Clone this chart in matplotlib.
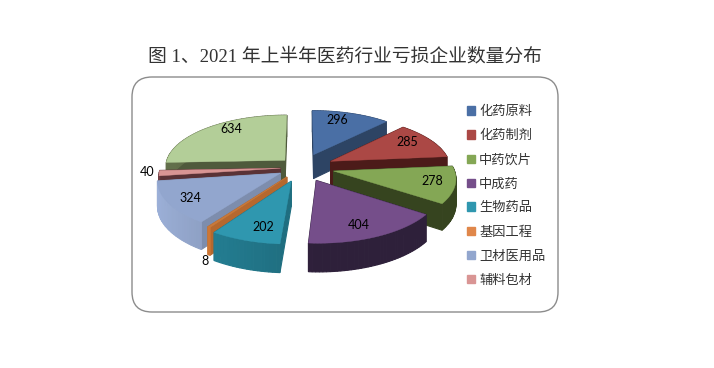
import numpy as np
import matplotlib
matplotlib.use('Agg')
import matplotlib.pyplot as plt
from matplotlib.patches import FancyBboxPatch, Patch, Polygon

TITLE = '图 1、2021 年上半年医药行业亏损企业数量分布'
# the last slice (634) has no legend entry in the original
names = ['化药原料', '化药制剂', '中药饮片', '中成药', '生物药品', '基因工程', '卫材医用品', '辅料包材']
values = [296, 285, 278, 404, 202, 8, 324, 40, 634]

top_colors = ['#4A6FA5', '#AB4845', '#84A755', '#754E8A', '#2F97AF', '#C87A3C', '#92A6CE', '#D99594', '#B3CE98']
wall_colors = ['#2D4464', '#4C1B19', '#36441F', '#2E203A', '#1F6E80', '#B5682E', '#7D8DAD', '#5A3236', '#4F5A3C']
legend_colors = top_colors[:5] + ['#E0874A'] + top_colors[6:8]

# pixel positions of the value labels
label_xy = [(337, 120), (407, 142), (432, 181), (359, 225), (263, 227),
            (205, 261), (190, 198), (147, 172), (231, 129)]

CX, CY = 302, 167.4     # pie centre
RX, RY = 120, 52        # radii of the tilted disc
PERSP = 0.118           # near side looks bigger than far side
DEPTH = 24.5            # wall height
EXPLODE = [0.27, 0.27, 0.27, 0.27, 0.27, 0.22, 0.21, 0.18, 0.2]


def project(x, y, z=0.0):
    f = 1.0 / (1.0 + PERSP * y)
    return CX + RX * x * f, CY - RY * y * f + DEPTH * z * f


def shade(color, k):
    rgb = np.array(matplotlib.colors.to_rgb(color))
    return tuple(np.clip(rgb * k, 0, 1))


def wall(ax, p0, p1, color):
    a, b = project(*p0), project(*p1)
    c, d = project(*p1, 1.0), project(*p0, 1.0)
    ax.add_patch(Polygon([a, b, c, d], closed=True, fc=color, ec=color, lw=0.8))


def draw_slice(ax, start, end, explode, top, side):
    mid = (start + end) / 2
    ox, oy = explode * np.sin(mid), explode * np.cos(mid)
    thetas = np.linspace(start, end, max(int((end - start) * 40), 3))
    rim = [(ox + np.sin(t), oy + np.cos(t)) for t in thetas]

    # radial walls, the one further back first
    walls = sorted([rim[0], rim[-1]], key=lambda p: -p[1])
    for p in walls:
        wall(ax, (ox, oy), p, side)

    # outer wall in small strips, gets a bit lighter towards the left
    for p0, p1, t in zip(rim[:-1], rim[1:], thetas):
        wall(ax, p0, p1, shade(side, 1.0 + 0.25 * max(-np.sin(t), 0)))

    outline = [project(ox, oy)] + [project(*p) for p in rim]
    ax.add_patch(Polygon(outline, closed=True, fc=top, ec=top, lw=0.3))


plt.rcParams['font.family'] = ['Liberation Serif', 'Noto Sans CJK SC']

fig = plt.figure(figsize=(7.14, 3.68), dpi=100)
ax = fig.add_axes([0, 0, 1, 1])
ax.set_xlim(0, 714)
ax.set_ylim(368, 0)
ax.axis('off')

ax.text(345, 57, TITLE, ha='center', va='center', fontsize=13.5, color='#333333')

ax.add_patch(FancyBboxPatch((152, 97), 386, 195, boxstyle='round,pad=20,rounding_size=20',
                            fc='white', ec='#8C8C8C', lw=1.0))

edges = np.cumsum([0] + values) / sum(values) * 2 * np.pi
order = sorted(range(len(values)), key=lambda i: -np.cos((edges[i] + edges[i + 1]) / 2))
for i in order:
    draw_slice(ax, edges[i], edges[i + 1], EXPLODE[i], top_colors[i], wall_colors[i])

for v, (x, y) in zip(values, label_xy):
    ax.text(x, y, str(v), ha='center', va='center', fontsize=9, family='Lato', color='black')

handles = [Patch(fc=c, ec=c) for c in legend_colors]
ax.legend(handles, names, loc='upper left', bbox_to_anchor=(467 / 714, 1 - 106 / 368), frameon=False,
          fontsize=9.5, labelspacing=0.9, handlelength=0.62, handleheight=0.62,
          handletextpad=0.3, borderpad=0, borderaxespad=0, labelcolor='#333333')

fig.savefig('out.png', dpi=100)
